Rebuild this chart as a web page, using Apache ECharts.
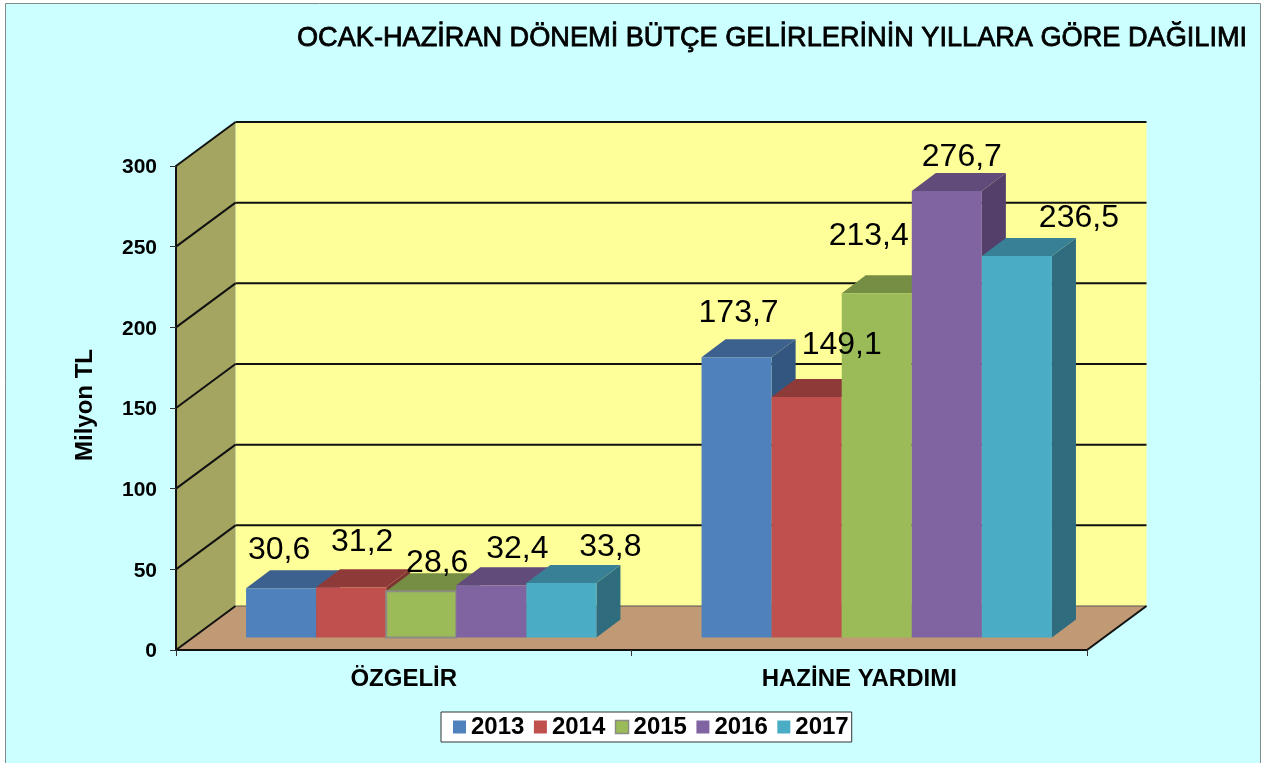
<!DOCTYPE html>
<html>
<head>
<meta charset="utf-8">
<title>Bütçe gelirleri</title>
<script src="https://cdn.jsdelivr.net/npm/echarts@6/dist/echarts.min.js"></script>
<style>
    html, body { margin: 0; padding: 0; background: #fff; }
    #chart { width: 1262px; height: 763px; }
</style>
</head>
<body>
<div id="chart"></div>
<script>
const categories = ['ÖZGELİR', 'HAZİNE YARDIMI'];
const years = ['2013', '2014', '2015', '2016', '2017'];
const values2013 = [30.6, 173.7];
const values2014 = [31.2, 149.1];
const values2015 = [28.6, 213.4];
const values2016 = [32.4, 276.7];
const values2017 = [33.8, 236.5];
const yTicks = [0, 50, 100, 150, 200, 250, 300];

const yearValues = [values2013, values2014, values2015, values2016, values2017];

// renk: on, ust, yan
const barColors = [
    ['#4f81bd', '#3c618f', '#335681'],
    ['#c0504d', '#8e3a38', '#7d3331'],
    ['#9bbb59', '#758e43', '#66793a'],
    ['#8064a2', '#614b7b', '#543f6b'],
    ['#4bacc6', '#388096', '#2f6c7e']
];

// elle yerlestirilmis etiketler, cubuk tepesine gore kayma [x, y]
const labelNudge = [
    [[-2, -38], [2, -44]],
    [[11, -45], [35, -52]],
    [[16, -28], [-8, -57]],
    [[26, -36], [15, -34]],
    [[49, -36], [62, -38]]
];

const WALL_DX = 59.5, WALL_DY = -44;
const BAR_DX = 24, BAR_DY = -18;
const BAR_FRONT_DX = 17.5, BAR_FRONT_DY = -12.5;
const BAR_SLOTS = 6.5;
const FONT = '"Liberation Sans", Arial, sans-serif';

function renderWalls(params, api) {
    const c = params.coordSys;
    const x0 = c.x, x1 = c.x + c.width;
    const y0 = api.coord([0, 0])[1], yTop = api.coord([0, 300])[1];
    const kids = [
        { type: 'polygon', shape: { points: [[x0 + WALL_DX, yTop + WALL_DY], [x1 + WALL_DX, yTop + WALL_DY], [x1 + WALL_DX, y0 + WALL_DY], [x0 + WALL_DX, y0 + WALL_DY]] }, style: { fill: '#ffff99' } },
        { type: 'polygon', shape: { points: [[x0, yTop], [x0 + WALL_DX, yTop + WALL_DY], [x0 + WALL_DX, y0 + WALL_DY], [x0, y0]] }, style: { fill: '#a5a562' } },
        { type: 'polygon', shape: { points: [[x0, y0], [x0 + WALL_DX, y0 + WALL_DY], [x1 + WALL_DX, y0 + WALL_DY], [x1, y0]] }, style: { fill: '#c09a74' } }
    ];
    yTicks.forEach(t => {
        const y = api.coord([0, t])[1];
        const line = (a, b, c2, d, w) => ({ type: 'line', shape: { x1: a, y1: b, x2: c2, y2: d }, style: { stroke: t === 0 && w === 1 ? '#555' : '#111', lineWidth: w } });
        kids.push(line(x0, y, x0 + WALL_DX, y + WALL_DY, 2));
        kids.push(line(x0 + WALL_DX, y + WALL_DY, x1 + WALL_DX, y + WALL_DY, t === 0 ? 1 : 2));
    });
    kids.push({ type: 'line', shape: { x1: x1, y1: y0, x2: x1 + WALL_DX, y2: y0 + WALL_DY }, style: { stroke: '#111', lineWidth: 2 } });
    return { type: 'group', children: kids };
}

function barGeometry(api, cat, value, yearIdx) {
    const band = api.size([1, 0])[0];
    const w = band / BAR_SLOTS;
    const top = api.coord([cat, value]);
    const base = api.coord([cat, 0]);
    const left = top[0] - 2.5 * w + BAR_FRONT_DX + yearIdx * w;
    return { left: left, right: left + w, top: top[1] + BAR_FRONT_DY, bottom: base[1] + BAR_FRONT_DY, w: w };
}

function renderBar(yearIdx) {
    return function (params, api) {
        const g = barGeometry(api, api.value(0), api.value(1), yearIdx);
        const col = barColors[yearIdx];
        // 2015 OZGELIR cubugunda gri cerceve var
        const framed = yearIdx === 2 && api.value(0) === 0;
        return {
            type: 'group',
            children: [
                { type: 'polygon', shape: { points: [[g.right, g.top], [g.right + BAR_DX, g.top + BAR_DY], [g.right + BAR_DX, g.bottom + BAR_DY], [g.right, g.bottom]] }, style: { fill: col[2] } },
                { type: 'polygon', shape: { points: [[g.left, g.top], [g.left + BAR_DX, g.top + BAR_DY], [g.right + BAR_DX, g.top + BAR_DY], [g.right, g.top]] }, style: { fill: col[1] } },
                { type: 'rect', shape: { x: g.left, y: g.top, width: g.w, height: g.bottom - g.top }, style: framed ? { fill: col[0], stroke: '#8c8c84', lineWidth: 2 } : { fill: col[0] } }
            ]
        };
    };
}

function renderLabel(params, api) {
    const cat = api.value(0), value = api.value(1), yearIdx = api.value(2);
    const g = barGeometry(api, cat, value, yearIdx);
    const nudge = labelNudge[yearIdx][cat];
    return {
        type: 'text',
        x: g.left + g.w / 2 + nudge[0],
        y: g.top + nudge[1],
        style: {
            text: String(value).replace('.', ','),
            fill: '#000',
            fontSize: 32,
            fontFamily: FONT,
            align: 'center',
            verticalAlign: 'middle'
        }
    };
}

const barSeries = years.map((year, i) => ({
    name: year,
    type: 'custom',
    coordinateSystem: 'cartesian2d',
    z: 3 + i,
    silent: true,
    itemStyle: { color: barColors[i][0] },
    encode: { x: 0, y: 1 },
    data: yearValues[i].map((v, c) => [c, v]),
    renderItem: renderBar(i)
}));

const labelData = [];
yearValues.forEach((vals, i) => vals.forEach((v, c) => labelData.push([c, v, i])));

const option = {
    animation: false,
    backgroundColor: '#fff',
    textStyle: { fontFamily: FONT },
    graphic: [{
        type: 'rect',
        z: -1,
        shape: { x: 5.5, y: 3.5, width: 1255, height: 775 },
        style: { fill: '#ccffff', stroke: '#7f8a8a', lineWidth: 1 }
    }],
    title: {
        text: 'OCAK-HAZİRAN DÖNEMİ BÜTÇE GELİRLERİNİN YILLARA GÖRE DAĞILIMI',
        left: 297,
        top: 25,
        padding: 0,
        textStyle: { color: '#000', fontSize: 27.15, fontWeight: 'normal', fontFamily: FONT, textBorderColor: '#000', textBorderWidth: 0.8 }
    },
    legend: {
        left: 441,
        top: 712,
        padding: [3, 3, 3, 12],
        itemWidth: 13,
        itemHeight: 13,
        itemGap: 9.5,
        icon: 'rect',
        backgroundColor: '#fff',
        borderColor: '#333',
        borderWidth: 1,
        borderRadius: 0,
        selectedMode: false,
        textStyle: { color: '#000', fontSize: 24, fontWeight: 'bold', fontFamily: FONT },
        data: years.map((year, i) => i === 2
            ? { name: year, itemStyle: { borderColor: '#8c8c84', borderWidth: 1.5 } }
            : { name: year })
    },
    grid: { left: 176, top: 166, width: 911, height: 484 },
    xAxis: {
        type: 'category',
        data: categories,
        z: 9,
        axisLine: { lineStyle: { color: '#111', width: 2 } },
        axisTick: { show: true, length: 6, lineStyle: { color: '#333', width: 1 } },
        axisLabel: { color: '#000', fontSize: 24, fontWeight: 'bold', margin: 17, fontFamily: FONT }
    },
    yAxis: {
        type: 'value',
        min: 0,
        max: 300,
        interval: 50,
        z: 9,
        name: 'Milyon TL',
        nameLocation: 'middle',
        nameGap: 79,
        nameTextStyle: { color: '#000', fontSize: 24, fontWeight: 'bold', fontFamily: FONT, padding: [0, 0, 0, 6] },
        splitLine: { show: false },
        axisLine: { show: true, lineStyle: { color: '#111', width: 2 } },
        axisTick: { show: true, length: 6, lineStyle: { color: '#333', width: 1 } },
        axisLabel: { color: '#000', fontSize: 21, fontWeight: 'bold', margin: 19, fontFamily: FONT, verticalAlign: 'top', lineHeight: 3 }
    },
    series: [
        { type: 'custom', coordinateSystem: 'cartesian2d', z: 1, silent: true, data: [[0, 0]], encode: { x: 0, y: 1 }, renderItem: renderWalls }
    ].concat(barSeries, [
        { type: 'custom', coordinateSystem: 'cartesian2d', z: 12, silent: true, data: labelData, encode: { x: 0, y: 1 }, renderItem: renderLabel }
    ])
};

const chart = echarts.init(document.getElementById('chart'));
chart.setOption(option);
window.addEventListener('resize', () => chart.resize());
</script>
</body>
</html>
